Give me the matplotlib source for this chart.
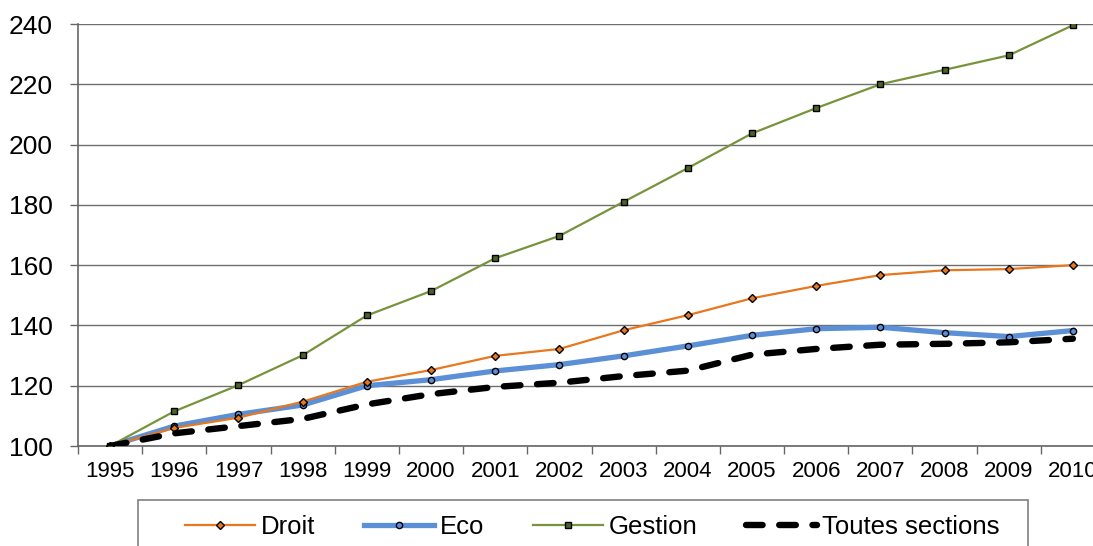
import matplotlib.pyplot as plt
import numpy as np
from matplotlib.patches import Rectangle

plt.rcParams['font.family'] = ['Liberation Sans', 'DejaVu Sans']

# Data (index 1995 = 100)
years = ['1995', '1996', '1997', '1998', '1999', '2000', '2001', '2002',
         '2003', '2004', '2005', '2006', '2007', '2008', '2009', '2010']
droit = [100, 106.0, 109.4, 114.7, 121.3, 125.2, 129.9, 132.2,
         138.4, 143.4, 149.0, 153.1, 156.7, 158.3, 158.7, 160.0]
eco = [100, 106.6, 110.5, 113.6, 120.0, 122.0, 124.9, 127.0,
       129.9, 133.2, 136.7, 138.9, 139.4, 137.6, 136.3, 138.3]
gestion = [100, 111.5, 120.2, 130.1, 143.3, 151.4, 162.3, 169.7,
           181.0, 192.2, 203.7, 212.1, 220.0, 224.8, 229.6, 239.6]
toutes = [100, 104.2, 106.6, 109.0, 113.8, 117.2, 119.6, 121.0,
          123.2, 125.0, 130.3, 132.2, 133.6, 133.9, 134.4, 135.6]

x = np.arange(len(years))

W, H = 1093, 546
fig = plt.figure(figsize=(W / 100, H / 100), dpi=100)
ax = fig.add_axes([78 / W, 100 / H, 1027 / W, 422 / H])

ax.plot(x, droit, color='#E8771E', lw=1.6, marker='D', ms=3.6,
        mfc='#E8771E', mec='black', mew=1.0, label='Droit', zorder=4)
ax.plot(x, eco, color='#5B8FD6', lw=3.8, marker='o', ms=4.5,
        mfc='#5B8FD6', mec='black', mew=1.0, label='Eco', zorder=3)
ax.plot(x, gestion, color='#77933C', lw=1.6, marker='s', ms=4.8,
        mfc='#4F6228', mec='black', mew=1.0, label='Gestion', zorder=4)
ax.plot(x, toutes, color='black', lw=4.6, ls=(0, (2.6, 2.6)),
        dash_capstyle='round', label='Toutes sections', zorder=5)

ax.set_xlim(-0.5, len(years) - 0.5)
ax.set_ylim(100, 240)
ax.set_yticks(np.arange(100, 241, 20))
ax.yaxis.grid(True, color='#6e6e6e', lw=1.0)
ax.set_axisbelow(True)

# category boundaries as ticks, labels centred on categories
ax.set_xticks(np.arange(len(years) + 1) - 0.5)
ax.set_xticklabels([])
ax.set_xticks(x, minor=True)
ax.set_xticklabels(years, minor=True)
ax.tick_params(axis='x', which='major', length=6, width=1, color='#666666')
ax.tick_params(axis='x', which='minor', length=0, pad=11, labelsize=16)
ax.tick_params(axis='y', length=6, width=1, color='#666666', pad=12,
               labelsize=19)

for s in ['top', 'right']:
    ax.spines[s].set_visible(False)
for s in ['left', 'bottom']:
    ax.spines[s].set_color('#666666')
    ax.spines[s].set_linewidth(1.2)

# legend box (bottom runs off the figure, as in the original)
fig.patches.append(Rectangle((138 / W, -0.05), (1028 - 138) / W, 0.05 + 46 / H,
                             transform=fig.transFigure, fill=False,
                             edgecolor='#808080', lw=1.2))
fig.legend(loc='center', bbox_to_anchor=(592 / W, 1 - 527 / H),
           ncol=4, fontsize=18.5, frameon=False,
           handlelength=2.75, columnspacing=1.9,
           handletextpad=0.2, borderpad=0, borderaxespad=0)

fig.savefig('out.png', dpi=100)
